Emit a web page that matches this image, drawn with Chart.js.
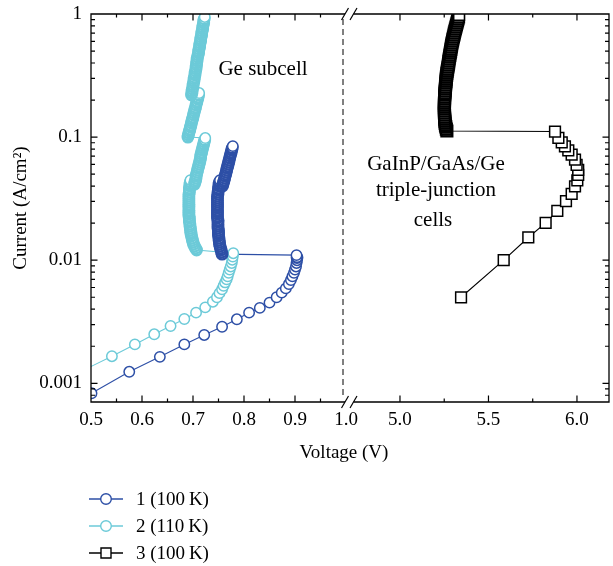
<!DOCTYPE html>
<html>
<head>
<meta charset="utf-8">
<script src="https://cdn.jsdelivr.net/npm/chart.js@4.4.1/dist/chart.umd.min.js"></script>
<style>
  html, body { margin: 0; padding: 0; background: #fff; }
  canvas { display: block; }
</style>
</head>
<body>
<canvas id="chart" width="613" height="566"></canvas>
<script>
// ---- data (voltage in V, current in A/cm^2) ----

// series 1: Ge subcell, 100 K
const GE1_V = [
  0.501, 0.575, 0.635, 0.683, 0.722, 0.757, 0.786, 0.810, 0.831, 0.850,
  0.864, 0.874, 0.882, 0.888, 0.892, 0.895, 0.898, 0.900, 0.902, 0.903,
  0.904, 0.904, 0.903,
  // snap back, first branch
  0.757, 0.756, 0.755, 0.754, 0.753, 0.752, 0.752, 0.751, 0.751, 0.750,
  0.750, 0.750, 0.750, 0.749, 0.749, 0.749, 0.749, 0.749, 0.748, 0.748,
  0.748, 0.748, 0.748, 0.748, 0.748, 0.748, 0.748, 0.748, 0.748, 0.748,
  0.749, 0.749, 0.750, 0.750, 0.751, 0.751, 0.752, 0.753,
  // second branch
  0.758, 0.759, 0.760, 0.761, 0.762, 0.763, 0.764, 0.765, 0.766, 0.767,
  0.768, 0.769, 0.770, 0.771, 0.772, 0.773, 0.774, 0.775, 0.776, 0.777,
  0.778
];
const GE1_I = [
  0.00083, 0.00124, 0.00164, 0.00207, 0.00247, 0.00288, 0.00331, 0.00375, 0.00410, 0.00452,
  0.00500, 0.00545, 0.0059, 0.0064, 0.0069, 0.0074, 0.0079, 0.0084, 0.0089, 0.0095,
  0.0100, 0.0105, 0.0110,
  0.0112, 0.0116, 0.0121, 0.0125, 0.0130, 0.0135, 0.0140, 0.0145, 0.0151, 0.0157,
  0.0163, 0.0169, 0.0175, 0.0182, 0.0189, 0.0196, 0.0204, 0.0211, 0.0220, 0.0228,
  0.0237, 0.0246, 0.0255, 0.0265, 0.0275, 0.0285, 0.0296, 0.0307, 0.0319, 0.0331,
  0.0344, 0.0357, 0.0371, 0.0385, 0.0400, 0.0415, 0.0431, 0.0447,
  0.0400, 0.0415, 0.0431, 0.0447, 0.0464, 0.0482, 0.0500, 0.0519, 0.0539, 0.0560,
  0.0581, 0.0603, 0.0626, 0.0650, 0.0675, 0.0701, 0.0728, 0.0755, 0.0784, 0.0814,
  0.0845
];

// series 2: Ge subcell, 110 K
const GE2_V = [
  0.470, 0.541, 0.586, 0.624, 0.656, 0.683, 0.706, 0.724, 0.739, 0.747,
  0.752, 0.757, 0.760, 0.763, 0.766, 0.768, 0.770, 0.772, 0.774, 0.776,
  0.777, 0.778, 0.779,
  // branch 1
  0.707, 0.705, 0.703, 0.701, 0.700, 0.699, 0.698, 0.697, 0.696, 0.696,
  0.695, 0.695, 0.694, 0.694, 0.693, 0.693, 0.693, 0.692, 0.692, 0.692,
  0.692, 0.692, 0.692, 0.692, 0.692, 0.692, 0.692, 0.692, 0.692, 0.693,
  0.693, 0.693, 0.694, 0.694, 0.695, 0.695,
  // branch 2
  0.703, 0.704, 0.705, 0.706, 0.706, 0.707, 0.708, 0.709, 0.710, 0.711,
  0.712, 0.713, 0.714, 0.715, 0.715, 0.716, 0.717, 0.718, 0.719, 0.720,
  0.721, 0.722, 0.723, 0.724,
  // branch 3
  0.690, 0.691, 0.692, 0.693, 0.694, 0.695, 0.696, 0.697, 0.698, 0.699,
  0.700, 0.701, 0.702, 0.703, 0.704, 0.705, 0.706, 0.707, 0.708, 0.709,
  0.710, 0.711, 0.712,
  // branch 4
  0.697, 0.698, 0.698, 0.699, 0.700, 0.700, 0.701, 0.702, 0.702, 0.703,
  0.704, 0.704, 0.705, 0.706, 0.706, 0.707, 0.707, 0.708, 0.708, 0.709,
  0.710, 0.711, 0.711, 0.712, 0.713, 0.713, 0.714, 0.715, 0.715, 0.716,
  0.717, 0.717, 0.718, 0.719, 0.719, 0.720, 0.721, 0.721, 0.722, 0.723
];
const GE2_I = [
  0.00119, 0.00166, 0.00207, 0.00250, 0.00292, 0.00333, 0.00375, 0.00414, 0.0046, 0.0050,
  0.0054, 0.0058, 0.0062, 0.0066, 0.0070, 0.0074, 0.0079, 0.0084, 0.0089, 0.0095,
  0.0101, 0.0107, 0.0114,
  0.0121, 0.0125, 0.0130, 0.0135, 0.0140, 0.0145, 0.0151, 0.0157, 0.0163, 0.0169,
  0.0175, 0.0182, 0.0189, 0.0196, 0.0204, 0.0211, 0.0220, 0.0228, 0.0237, 0.0246,
  0.0255, 0.0265, 0.0275, 0.0285, 0.0296, 0.0307, 0.0319, 0.0331, 0.0344, 0.0357,
  0.0371, 0.0385, 0.0400, 0.0415, 0.0431, 0.0447,
  0.0415, 0.0431, 0.0447, 0.0464, 0.0482, 0.0500, 0.0519, 0.0539, 0.0560, 0.0581,
  0.0603, 0.0626, 0.0650, 0.0675, 0.0701, 0.0728, 0.0755, 0.0784, 0.0814, 0.0845,
  0.0877, 0.0911, 0.0946, 0.0982,
  0.100, 0.104, 0.108, 0.112, 0.116, 0.121, 0.125, 0.130, 0.135, 0.140,
  0.145, 0.151, 0.157, 0.163, 0.169, 0.175, 0.182, 0.189, 0.196, 0.204,
  0.211, 0.220, 0.228,
  0.220, 0.228, 0.237, 0.246, 0.255, 0.265, 0.275, 0.285, 0.296, 0.307,
  0.319, 0.331, 0.344, 0.357, 0.371, 0.385, 0.400, 0.415, 0.431, 0.447,
  0.464, 0.482, 0.500, 0.519, 0.539, 0.560, 0.581, 0.603, 0.626, 0.650,
  0.675, 0.701, 0.728, 0.755, 0.784, 0.814, 0.845, 0.877, 0.911, 0.946
];

// series 3: GaInP/GaAs/Ge triple-junction cell, 100 K
const TJ_V = [
  5.345, 5.586, 5.725, 5.823, 5.889, 5.938, 5.970, 5.989, 6.002, 6.007,
  6.007, 5.998, 5.989, 5.970, 5.951, 5.932, 5.914, 5.895, 5.876,
  // snap back
  5.265, 5.262, 5.259, 5.257, 5.255, 5.254, 5.253, 5.252, 5.252, 5.251,
  5.251, 5.251, 5.251, 5.251, 5.251, 5.252, 5.252, 5.252, 5.253, 5.254,
  5.255, 5.256, 5.257, 5.258, 5.259, 5.260, 5.261, 5.262, 5.264, 5.265,
  5.267, 5.269, 5.271, 5.273, 5.275, 5.276, 5.278, 5.280, 5.282, 5.284,
  5.286, 5.288, 5.290, 5.292, 5.294, 5.297, 5.299, 5.302, 5.305, 5.307,
  5.310, 5.313, 5.316, 5.319, 5.322, 5.325, 5.328, 5.331, 5.334
];
const TJ_I = [
  0.0050, 0.0100, 0.0153, 0.0201, 0.0252, 0.0302, 0.0346, 0.0397, 0.0445, 0.0494,
  0.0543, 0.0596, 0.0655, 0.0719, 0.0780, 0.0840, 0.0906, 0.0984, 0.111,
  0.112, 0.116, 0.121, 0.125, 0.130, 0.135, 0.140, 0.145, 0.151, 0.157,
  0.163, 0.169, 0.175, 0.182, 0.189, 0.196, 0.204, 0.211, 0.220, 0.228,
  0.237, 0.246, 0.255, 0.265, 0.275, 0.285, 0.296, 0.307, 0.319, 0.331,
  0.344, 0.357, 0.371, 0.385, 0.400, 0.415, 0.431, 0.447, 0.464, 0.482,
  0.500, 0.519, 0.539, 0.560, 0.581, 0.603, 0.626, 0.650, 0.675, 0.701,
  0.728, 0.755, 0.784, 0.814, 0.845, 0.877, 0.911, 0.946, 0.982
];

// axes
const XL_TICKS = [0.5, 0.6, 0.7, 0.8, 0.9, 1.0];
const XL_MINOR = [0.55, 0.65, 0.75, 0.85, 0.95];
const XR_TICKS = [5.0, 5.5, 6.0];
const XR_MINOR = [5.25, 5.75];
const Y_TICKS = [0.001, 0.01, 0.1, 1];
const Y_MINOR = [
  0.0008, 0.0009,
  0.002, 0.003, 0.004, 0.005, 0.006, 0.007, 0.008, 0.009,
  0.02, 0.03, 0.04, 0.05, 0.06, 0.07, 0.08, 0.09,
  0.2, 0.3, 0.4, 0.5, 0.6, 0.7, 0.8, 0.9
];
const LEGEND_LABELS = ['1 (100\u2009K)', '2 (110\u2009K)', '3 (100\u2009K)'];

const BLUE = '#2d4fa6';
const CYAN = '#6ccad8';
const BLACK = '#000';
const FONT = '"Liberation Serif", "Times New Roman", serif';

const SERIES = [
  { v: GE1_V, i: GE1_I, color: BLUE, style: 'circle', r: 5.2, axis: 'xL' },
  { v: GE2_V, i: GE2_I, color: CYAN, style: 'circle', r: 5.2, axis: 'xL' },
  { v: TJ_V, i: TJ_I, color: BLACK, style: 'rect', r: 7.6, axis: 'xR' }
];

// markers that sit almost on top of the next one get a heavier outline,
// so the tightly packed runs read as solid bands like in the original
function borderFor(axis) {
  return c => {
    const d = c.dataset.data, k = c.dataIndex;
    if (k + 1 >= d.length) return 1.5;
    const xs = c.chart.scales[axis], ys = c.chart.scales.y;
    const dx = xs.getPixelForValue(d[k + 1].x) - xs.getPixelForValue(d[k].x);
    const dy = ys.getPixelForValue(d[k + 1].y) - ys.getPixelForValue(d[k].y);
    return Math.hypot(dx, dy) < 2.6 ? 2.4 : 1.5;
  };
}

const datasets = [];
SERIES.forEach(s => {
  const pts = () => s.v.map((x, k) => ({ x: x, y: s.i[k] }));
  // connecting line underneath all markers
  datasets.push({
    data: pts(), xAxisID: s.axis, yAxisID: 'y', showLine: true,
    borderColor: s.color, borderWidth: 1.1, pointRadius: 0, order: 2, clip: 0
  });
  // markers
  datasets.push({
    data: pts(), xAxisID: s.axis, yAxisID: 'y', showLine: false,
    pointStyle: s.style, pointRadius: s.r, pointBorderWidth: borderFor(s.axis),
    pointBorderColor: s.color, pointBackgroundColor: '#fff', order: 1, clip: 0
  });
});

const tickFont = { family: FONT, size: 19 };

// keep label overhang from shrinking the plot area
function noPad(s) {
  s.paddingLeft = 0; s.paddingRight = 0; s.paddingTop = 0; s.paddingBottom = 0;
}

function xScale(min, max, weight, ticks) {
  return {
    type: 'linear', position: 'bottom', stack: 'volt', stackWeight: weight,
    min: min, max: max,
    afterBuildTicks: s => { s.ticks = ticks.map(v => ({ value: v })); },
    afterFit: s => { s.height = 60; noPad(s); },
    grid: { display: false, drawTicks: false },
    border: { display: false },
    ticks: { padding: 7, color: '#000', font: tickFont, autoSkip: false, maxRotation: 0,
             callback: v => v.toFixed(1) }
  };
}

// frame, broken axis, inward ticks, notes and legend
const framePlugin = {
  id: 'frame',
  afterDraw(chart) {
    const { ctx, chartArea: a } = chart;
    const { xL, xR, y } = chart.scales;
    const bx = xL.right;
    ctx.save();
    ctx.strokeStyle = '#000';
    ctx.lineWidth = 1.3;
    ctx.beginPath();
    ctx.moveTo(bx - 1, a.top); ctx.lineTo(a.left, a.top);
    ctx.lineTo(a.left, a.bottom); ctx.lineTo(bx - 1, a.bottom);
    ctx.moveTo(bx + 7.5, a.top); ctx.lineTo(a.right, a.top);
    ctx.lineTo(a.right, a.bottom); ctx.lineTo(bx + 7.5, a.bottom);
    ctx.stroke();

    ctx.lineWidth = 1.2;
    [a.top, a.bottom].forEach(yy => {
      [bx - 1, bx + 7.5].forEach(cx => {
        ctx.beginPath();
        ctx.moveTo(cx - 3.5, yy + 6);
        ctx.lineTo(cx + 3.5, yy - 6);
        ctx.stroke();
      });
    });

    ctx.setLineDash([6, 4]);
    ctx.lineWidth = 1;
    ctx.beginPath();
    ctx.moveTo(bx - 3, a.top + 5);
    ctx.lineTo(bx - 3, a.bottom - 5);
    ctx.stroke();
    ctx.setLineDash([]);

    // ticks
    ctx.lineWidth = 1.2;
    const xTicks = (scale, values, len) => {
      values.forEach(v => {
        const px = scale.getPixelForValue(v);
        if (px <= scale.left + 1 || px >= scale.right - 1) return;
        ctx.beginPath();
        ctx.moveTo(px, a.bottom); ctx.lineTo(px, a.bottom - len);
        ctx.moveTo(px, a.top); ctx.lineTo(px, a.top + len);
        ctx.stroke();
      });
    };
    xTicks(xL, XL_TICKS, 6.5); xTicks(xL, XL_MINOR, 3.5);
    xTicks(xR, XR_TICKS, 6.5); xTicks(xR, XR_MINOR, 3.5);
    const yTicks = (values, len) => {
      values.forEach(v => {
        const py = y.getPixelForValue(v);
        if (py < a.top + 1 || py > a.bottom - 1) return;
        ctx.beginPath();
        ctx.moveTo(a.left, py); ctx.lineTo(a.left + len, py);
        ctx.moveTo(a.right, py); ctx.lineTo(a.right - len, py);
        ctx.stroke();
      });
    };
    yTicks(Y_TICKS, 6.5); yTicks(Y_MINOR, 4);

    // notes
    ctx.fillStyle = '#000';
    ctx.textAlign = 'center';
    ctx.textBaseline = 'alphabetic';
    ctx.font = '21px ' + FONT;
    ctx.fillText('Ge subcell', 263, 75);
    ctx.fillText('GaInP/GaAs/Ge', 436, 170);
    ctx.fillText('triple-junction', 436, 196);
    ctx.fillText('cells', 433, 226);

    ctx.font = '19px ' + FONT;
    ctx.fillText('Voltage (V)', 344, 458);

    // legend
    ctx.textAlign = 'left';
    ctx.textBaseline = 'middle';
    SERIES.forEach((s, k) => {
      const yy = 499 + k * 27;
      ctx.strokeStyle = s.color;
      ctx.lineWidth = 1.3;
      ctx.beginPath(); ctx.moveTo(89, yy); ctx.lineTo(123, yy); ctx.stroke();
      ctx.fillStyle = '#fff';
      ctx.lineWidth = 1.4;
      ctx.beginPath();
      if (s.style === 'rect') ctx.rect(101, yy - 5, 10, 10);
      else ctx.arc(106, yy, 5.3, 0, Math.PI * 2);
      ctx.fill(); ctx.stroke();
      ctx.fillStyle = '#000';
      ctx.fillText(LEGEND_LABELS[k], 136, yy + 1);
    });
    ctx.restore();
  }
};

new Chart(document.getElementById('chart'), {
  type: 'scatter',
  data: { datasets: datasets },
  options: {
    responsive: false,
    animation: false,
    events: [],
    layout: { autoPadding: false, padding: { top: 14, right: 4, bottom: 104, left: 0 } },
    plugins: { legend: { display: false }, tooltip: { enabled: false } },
    scales: {
      xL: xScale(0.5, 1.0, 255, XL_TICKS),
      xR: xScale(4.695, 6.181, 263, XR_TICKS),
      y: {
        type: 'logarithmic', position: 'left', min: 0.000705, max: 1,
        afterBuildTicks: s => { s.ticks = Y_TICKS.map(v => ({ value: v })); },
        afterFit: s => { s.width = 91; noPad(s); },
        grid: { display: false, drawTicks: false },
        border: { display: false },
        ticks: { padding: 9, color: '#000', font: tickFont, callback: v => String(v) },
        title: { display: true, text: 'Current (A/cm²)', color: '#000',
                 font: { family: FONT, size: 19 }, padding: { top: 10, bottom: 0 } }
      }
    }
  },
  plugins: [framePlugin]
});
</script>
</body>
</html>
